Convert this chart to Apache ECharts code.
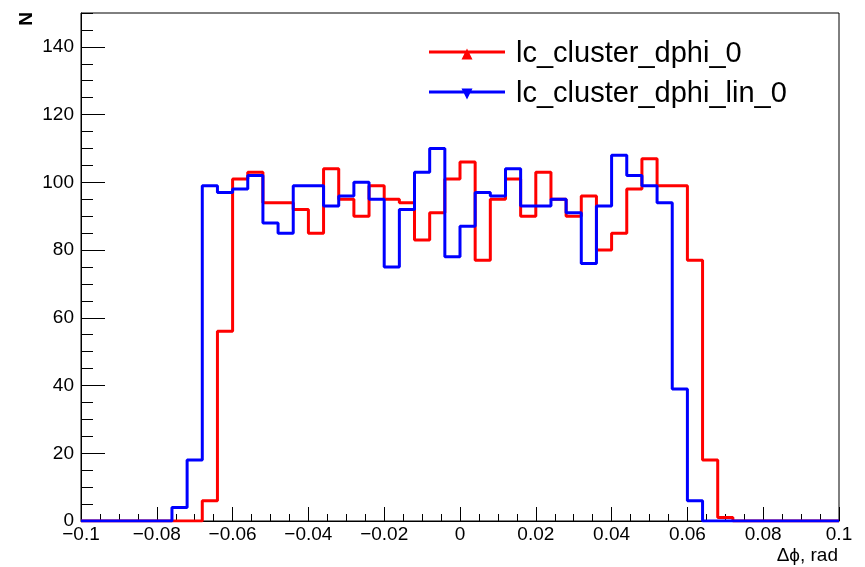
<!DOCTYPE html>
<html>
<head>
<meta charset="utf-8">
<script src="https://cdn.jsdelivr.net/npm/echarts@6/dist/echarts.min.js"></script>
<style>
html,body{margin:0;padding:0;background:#fff;}
#c{width:865px;height:567px;}
</style>
</head>
<body>
<div id="c"></div>
<script>
// Histogram binning: 50 bins from -0.1 to 0.1
const binLow = -0.1;
const binWidth = 0.004;
const seriesNames = ['lc_cluster_dphi_0', 'lc_cluster_dphi_lin_0'];
const dphiCounts = [
  0, 0, 0, 0, 0, 0, 0, 0, 6, 56,
  101, 103, 94, 94, 92, 85, 104, 95, 90, 99,
  95, 94, 83, 91, 101, 106, 77, 95, 101, 90,
  103, 95, 90, 96, 80, 85, 98, 107, 99, 99,
  77, 18, 1, 0, 0, 0, 0, 0, 0, 0
];
const dphiLinCounts = [
  0, 0, 0, 0, 0, 0, 4, 18, 99, 97,
  98, 102, 88, 85, 99, 99, 93, 96, 100, 95,
  75, 92, 103, 110, 78, 87, 97, 96, 104, 93,
  93, 95, 91, 76, 93, 108, 102, 99, 94, 39,
  6, 0, 0, 0, 0, 0, 0, 0, 0, 0
];
const xTitle = 'Δϕ, rad';
const yTitle = 'N';

function stepData(counts) {
  const pts = counts.map((v, i) => [+(binLow + i * binWidth).toFixed(4), v]);
  pts.push([+(binLow + counts.length * binWidth).toFixed(4), counts[counts.length - 1]]);
  return pts;
}

const FONT = 'Liberation Sans, Arial, Helvetica, sans-serif';
const fmt = v => {
  const s = (Math.round(v * 1000) / 1000).toString();
  return s.replace('-', '\u2212');
};

const chart = echarts.init(document.getElementById('c'), null, {renderer: 'canvas'});
chart.setOption({
  animation: false,
  backgroundColor: '#fff',
  grid: {left: 81, right: 26, top: 13, bottom: 46, show: true, borderColor: '#000', borderWidth: 1, backgroundColor: 'transparent'},
  legend: {
    orient: 'vertical',
    left: 424, top: 34,
    itemWidth: 76, itemHeight: 11, itemGap: 10,
    textStyle: {fontFamily: FONT, fontSize: 29, color: '#000', lineHeight: 30, padding: [0, 0, 0, 6]},
    data: [
      {name: seriesNames[0], icon: 'path://M0,2 L76,2 L76,5 L0,5 Z M38,0 L43.5,11 L32.5,11 Z', itemStyle: {color: '#ff0000'}},
      {name: seriesNames[1], icon: 'path://M0,2 L76,2 L76,5 L0,5 Z M32.5,0 L43.5,0 L38,11 Z', itemStyle: {color: '#0000ff'}}
    ]
  },
  xAxis: [
    {
      type: 'value', position: 'bottom', min: -0.1, max: 0.1, interval: 0.02,
      axisLine: {show: true, onZero: false, lineStyle: {color: '#000', width: 1}},
      axisTick: {show: true, inside: true, length: 14, lineStyle: {color: '#000', width: 1}},
      axisLabel: {show: true, margin: 4, fontFamily: FONT, fontSize: 19, color: '#000', formatter: fmt},
      splitLine: {show: false}
    },
    {
      type: 'value', position: 'bottom', min: -0.1, max: 0.1, interval: 0.005,
      axisLine: {show: false, onZero: false},
      axisTick: {show: true, inside: true, length: 7, lineStyle: {color: '#000', width: 1}},
      axisLabel: {show: false},
      splitLine: {show: false}
    }
  ],
  yAxis: [
    {
      type: 'value', position: 'left', min: 0, max: 150, interval: 20,
      axisLine: {show: true, onZero: false, lineStyle: {color: '#000', width: 1}},
      axisTick: {show: true, inside: true, length: 24, lineStyle: {color: '#000', width: 1}},
      axisLabel: {show: true, margin: 7, fontFamily: FONT, fontSize: 19, color: '#000', showMaxLabel: false},
      splitLine: {show: false}
    },
    {
      type: 'value', position: 'left', min: 0, max: 150, interval: 5,
      axisLine: {show: false, onZero: false},
      axisTick: {show: true, inside: true, length: 12, lineStyle: {color: '#000', width: 1}},
      axisLabel: {show: false},
      splitLine: {show: false}
    }
  ],
  graphic: [
    {type: 'text', x: 838, y: 556, style: {text: xTitle, font: '19px ' + FONT, fill: '#000', textAlign: 'right', textVerticalAlign: 'middle'}},
    {type: 'text', x: 27, y: 19, rotation: Math.PI / 2, style: {text: yTitle, font: 'bold 19px ' + FONT, fill: '#000', textAlign: 'center', textVerticalAlign: 'middle'}}
  ],
  series: [
    {
      name: seriesNames[0], type: 'line', step: 'end', xAxisIndex: 0, yAxisIndex: 0,
      showSymbol: false, symbol: 'triangle', data: stepData(dphiCounts),
      lineStyle: {color: '#ff0000', width: 3}, itemStyle: {color: '#ff0000'}, z: 3
    },
    {
      name: seriesNames[1], type: 'line', step: 'end', xAxisIndex: 0, yAxisIndex: 0,
      showSymbol: false, symbol: 'triangle', symbolRotate: 180, data: stepData(dphiLinCounts),
      lineStyle: {color: '#0000ff', width: 3}, itemStyle: {color: '#0000ff'}, z: 4
    }
  ]
});
</script>
</body>
</html>
